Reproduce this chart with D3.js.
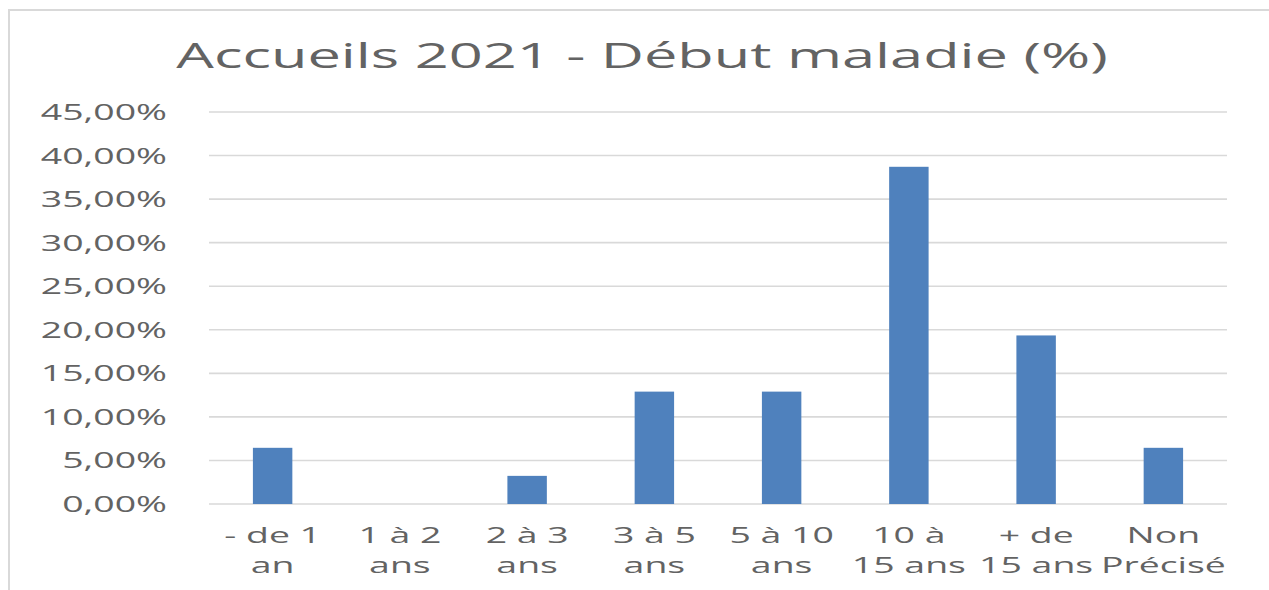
<!DOCTYPE html>
<html>
<head>
<meta charset="utf-8">
<script src="https://cdn.jsdelivr.net/npm/d3@7"></script>
<style>
  html, body { margin: 0; padding: 0; background: #fff; }
  svg { display: block; }
  text { font-family: 'Open Sans', sans-serif; fill: #636363; }
</style>
</head>
<body>
<div id="app"></div>
<script>
const title = 'Accueils 2021 - Début maladie (%)'
const categories = ['- de 1 an', '1 à 2 ans', '2 à 3 ans', '3 à 5 ans', '5 à 10 ans', '10 à 15 ans', '+ de 15 ans', 'Non Précisé']
const categoryLines = [
  ['- de 1', 'an'], ['1 à 2', 'ans'], ['2 à 3', 'ans'], ['3 à 5', 'ans'],
  ['5 à 10', 'ans'], ['10 à', '15 ans'], ['+ de', '15 ans'], ['Non', 'Précisé'],
]
const values = [0.0645, 0, 0.0323, 0.129, 0.129, 0.3871, 0.1935, 0.0645]
const yTicks = [0, 0.05, 0.1, 0.15, 0.2, 0.25, 0.3, 0.35, 0.4, 0.45]

const config = {
  width: 1269,
  height: 590,
  left: 209,
  right: 1227,
  top: 112,
  bottom: 504,
  stretch: 1.7,
}

const fr = d3.formatLocale({decimal: ',', thousands: ' ', grouping: [3], currency: ['', '€']})
const fmt = fr.format('.2%')

// text in the picture is wider than the font draws it, so stretch it
const widen = (sel, k) => sel.each(function () {
  const w = this.getComputedTextLength()
  d3.select(this).attr('textLength', w * k).attr('lengthAdjust', 'spacingAndGlyphs')
})

const draw = () => {
  const svg = d3.select('#app').append('svg')
    .attr('width', config.width)
    .attr('height', config.height)

  svg.append('rect')
    .attr('x', 9).attr('y', 10)
    .attr('width', 1400).attr('height', 800)
    .attr('fill', 'none').attr('stroke', '#d9d9d9').attr('stroke-width', 2)

  const x = d3.scaleBand()
    .domain(categories)
    .range([config.left, config.right])
    .paddingInner(0.69)
    .paddingOuter(0.345)

  const y = d3.scaleLinear()
    .domain([0, 0.45])
    .range([config.bottom, config.top])

  svg.append('g').selectAll('line').data(yTicks).join('line')
    .attr('x1', config.left).attr('x2', config.right)
    .attr('y1', (d) => y(d)).attr('y2', (d) => y(d))
    .attr('stroke', '#d9d9d9').attr('stroke-width', 1.6)

  svg.append('g').selectAll('text').data(yTicks).join('text')
    .attr('x', 167).attr('y', (d) => y(d) + 8)
    .attr('text-anchor', 'end')
    .attr('font-size', 22)
    .text((d) => fmt(d))
    .call(widen, config.stretch)

  svg.append('g').selectAll('rect').data(values).join('rect')
    .attr('x', (d, i) => x(categories[i]))
    .attr('width', x.bandwidth())
    .attr('y', (d) => y(d))
    .attr('height', (d) => y(0) - y(d))
    .attr('fill', '#4f81bd')

  const labels = svg.append('g').selectAll('g').data(categories).join('g')
    .attr('transform', (d) => `translate(${x(d) + x.bandwidth() / 2},0)`)
  labels.selectAll('text').data((d, i) => categoryLines[i]).join('text')
    .attr('x', 0).attr('y', (d, j) => 543 + j * 30)
    .attr('text-anchor', 'middle')
    .attr('font-size', 22)
    .text((d) => d)
    .call(widen, config.stretch)

  svg.append('text')
    .attr('x', 642).attr('y', 68)
    .attr('text-anchor', 'middle')
    .attr('font-size', 35)
    .text(title)
    .call(widen, config.stretch)
}
draw()
</script>
</body>
</html>
